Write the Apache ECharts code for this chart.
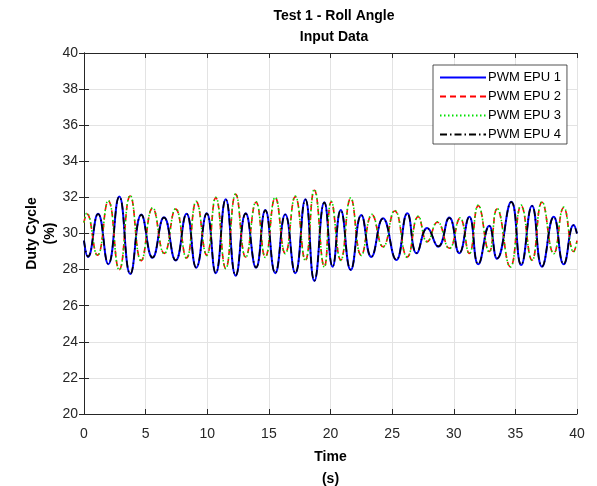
<!DOCTYPE html>
<html>
<head>
<meta charset="utf-8">
<script src="https://cdn.jsdelivr.net/npm/echarts@6/dist/echarts.min.js"></script>
<style>
html,body{margin:0;padding:0;background:#fff;}
#c{width:597px;height:486px;}
</style>
</head>
<body>
<div id="c"></div>
<script>
// Extremum times (s) and values (%)
const tBlue = [0, 0.32, 1.14, 1.97, 2.86, 3.76, 4.65, 5.56, 6.49, 7.44, 8.32, 9.11, 9.96, 10.69, 11.5, 12.31, 13.12, 13.96, 14.71, 15.52, 16.33, 17.14, 17.96, 18.69, 19.5, 20.17, 20.83, 21.64, 22.5, 23.31, 24.26, 25.34, 26.23, 26.99, 27.85, 28.74, 29.64, 30.45, 31.26, 31.99, 32.88, 33.51, 34.67, 35.47, 36.35, 37.16, 38.11, 38.92, 39.73, 40];
const pwm1 = [29.6, 28.7, 31.1, 28.3, 32.05, 27.75, 31.05, 28.65, 30.9, 28.5, 31.1, 28.1, 31.12, 27.8, 31.9, 27.66, 31.12, 28.1, 31.3, 27.8, 31.06, 27.8, 31.9, 27.37, 31.73, 28.16, 31.3, 27.98, 31.03, 28.7, 30.84, 28.53, 31.12, 28.9, 30.3, 29.27, 30.88, 28.9, 30.93, 28.29, 30.43, 28.6, 31.76, 28.25, 31.54, 28.16, 30.93, 28.29, 30.47, 30.0];
const pwm4 = [29.6, 28.72, 31.08, 28.32, 32.03, 27.77, 31.03, 28.67, 30.88, 28.52, 31.08, 28.12, 31.1, 27.82, 31.88, 27.68, 31.1, 28.12, 31.28, 27.82, 31.04, 27.82, 31.88, 27.39, 31.71, 28.18, 31.28, 28.0, 31.01, 28.72, 30.82, 28.55, 31.1, 28.92, 30.28, 29.29, 30.86, 28.92, 30.91, 28.31, 30.41, 28.62, 31.74, 28.27, 31.52, 28.18, 30.91, 28.31, 30.45, 30.0];
const tRed = [0, 0.22, 1.09, 1.97, 2.86, 3.75, 4.64, 5.57, 6.51, 7.44, 8.32, 9.11, 9.96, 10.69, 11.5, 12.31, 13.12, 13.96, 14.71, 15.52, 16.33, 17.14, 17.96, 18.69, 19.5, 20.06, 20.83, 21.64, 22.5, 23.37, 24.26, 25.21, 26.23, 27.12, 27.85, 28.67, 29.64, 30.51, 31.26, 31.99, 32.88, 33.51, 34.59, 35.47, 36.35, 37.16, 38.11, 38.92, 39.73, 40];
const pwm2 = [30.6, 31.1, 28.8, 31.8, 28.0, 32.08, 28.5, 31.4, 28.9, 31.35, 28.65, 31.76, 28.8, 31.98, 28.07, 32.17, 28.7, 31.73, 28.7, 31.98, 28.9, 32.04, 28.53, 32.4, 28.16, 31.76, 28.53, 31.95, 28.8, 31.03, 29.27, 31.25, 28.7, 30.93, 29.55, 30.62, 29.18, 30.84, 28.9, 31.54, 29.0, 31.36, 28.16, 31.54, 28.53, 31.73, 28.9, 31.43, 29.0, 29.6];
const pwm3 = [30.62, 31.13, 28.78, 31.83, 27.98, 32.11, 28.48, 31.43, 28.88, 31.38, 28.63, 31.79, 28.78, 32.01, 28.05, 32.2, 28.68, 31.76, 28.68, 32.01, 28.88, 32.07, 28.51, 32.45, 28.14, 31.79, 28.51, 31.98, 28.78, 31.06, 29.25, 31.28, 28.68, 30.96, 29.53, 30.65, 29.16, 30.87, 28.88, 31.57, 28.98, 31.39, 28.14, 31.57, 28.51, 31.76, 28.88, 31.46, 28.98, 29.62];
const seriesNames = ['PWM EPU 1', 'PWM EPU 2', 'PWM EPU 3', 'PWM EPU 4'];
const xTicks = [0, 5, 10, 15, 20, 25, 30, 35, 40];
const yTicks = [20, 22, 24, 26, 28, 30, 32, 34, 36, 38, 40];

const zip = (t, v) => t.map((x, i) => [x, v[i]]);
const FONT = 'Liberation Sans, Arial, sans-serif';
const AX = '#262626';

const chart = echarts.init(document.getElementById('c'), null, {renderer: 'canvas'});
const mkLine = (name, data, color, type, width) => ({
  name, type: 'line', data, smooth: 0.5, symbol: 'none',
  lineStyle: {color, type, width}, itemStyle: {color},
  xAxisIndex: 0, yAxisIndex: 0, animation: false
});
chart.setOption({
  animation: false,
  backgroundColor: '#ffffff',
  title: {
    text: 'Test 1 - Roll Angle\nInput Data',
    left: 329, top: 1, textAlign: 'center',
    textStyle: {fontFamily: FONT, fontSize: 14, fontWeight: 'bold', color: '#000', lineHeight: 21}
  },
  grid: {left: 84, right: 20, top: 53, bottom: 72, containLabel: false, outerBoundsMode: 'none'},
  legend: {
    orient: 'vertical', left: 433, top: 65,
    itemWidth: 46, itemHeight: 10, itemGap: 6,
    padding: [6, 6, 3, 6],
    backgroundColor: '#fff', borderColor: AX, borderWidth: 0.8,
    itemStyle: {opacity: 0},
    textStyle: {fontFamily: FONT, fontSize: 13, color: '#000', padding: [0, 0, 0, -3]},
    data: seriesNames
  },
  xAxis: [{
    type: 'value', min: 0, max: 40, interval: 5,
    name: 'Time\n(s)', nameLocation: 'middle', nameGap: 30,
    nameTextStyle: {fontFamily: FONT, fontSize: 14, fontWeight: 'bold', color: '#000', lineHeight: 22},
    axisLine: {show: true, lineStyle: {color: AX, width: 1}},
    axisTick: {show: true, inside: true, length: 5, lineStyle: {color: AX}},
    axisLabel: {fontFamily: FONT, fontSize: 14, color: AX, margin: 13,
      formatter: v => xTicks.includes(v) ? String(v) : ''},
    splitLine: {show: true, lineStyle: {color: '#e3e3e3', width: 1}}
  }, {
    type: 'value', min: 0, max: 40, interval: 5, position: 'top',
    axisLine: {show: true, lineStyle: {color: AX, width: 1}},
    axisTick: {show: true, inside: true, length: 5, lineStyle: {color: AX}},
    axisLabel: {show: false}, splitLine: {show: false}
  }],
  yAxis: [{
    type: 'value', min: 20, max: 40, interval: 2,
    name: 'Duty Cycle\n(%)', nameLocation: 'middle', nameGap: 25, nameRotate: 90,
    nameMoveOverlap: false,
    nameTextStyle: {fontFamily: FONT, fontSize: 14, fontWeight: 'bold', color: '#000', lineHeight: 18},
    axisLine: {show: true, lineStyle: {color: AX, width: 1}},
    axisTick: {show: true, inside: true, length: 5, lineStyle: {color: AX}},
    axisLabel: {fontFamily: FONT, fontSize: 14, color: AX, margin: 6,
      formatter: v => yTicks.includes(v) ? String(v) : ''},
    splitLine: {show: true, lineStyle: {color: '#e3e3e3', width: 1}}
  }, {
    type: 'value', min: 20, max: 40, interval: 2, position: 'right',
    axisLine: {show: true, lineStyle: {color: AX, width: 1}},
    axisTick: {show: true, inside: true, length: 5, lineStyle: {color: AX}},
    axisLabel: {show: false}, splitLine: {show: false}
  }],
  series: [
    mkLine(seriesNames[0], zip(tBlue, pwm1), '#0000ff', 'solid', 2),
    mkLine(seriesNames[1], zip(tRed, pwm2), '#ff0000', [6, 4], 1.6),
    mkLine(seriesNames[2], zip(tRed, pwm3), '#00e000', [1.5, 2.5], 1.6),
    mkLine(seriesNames[3], zip(tBlue, pwm4), '#000000', [7, 3, 1.5, 3], 1.6)
  ]
});
</script>
</body>
</html>
